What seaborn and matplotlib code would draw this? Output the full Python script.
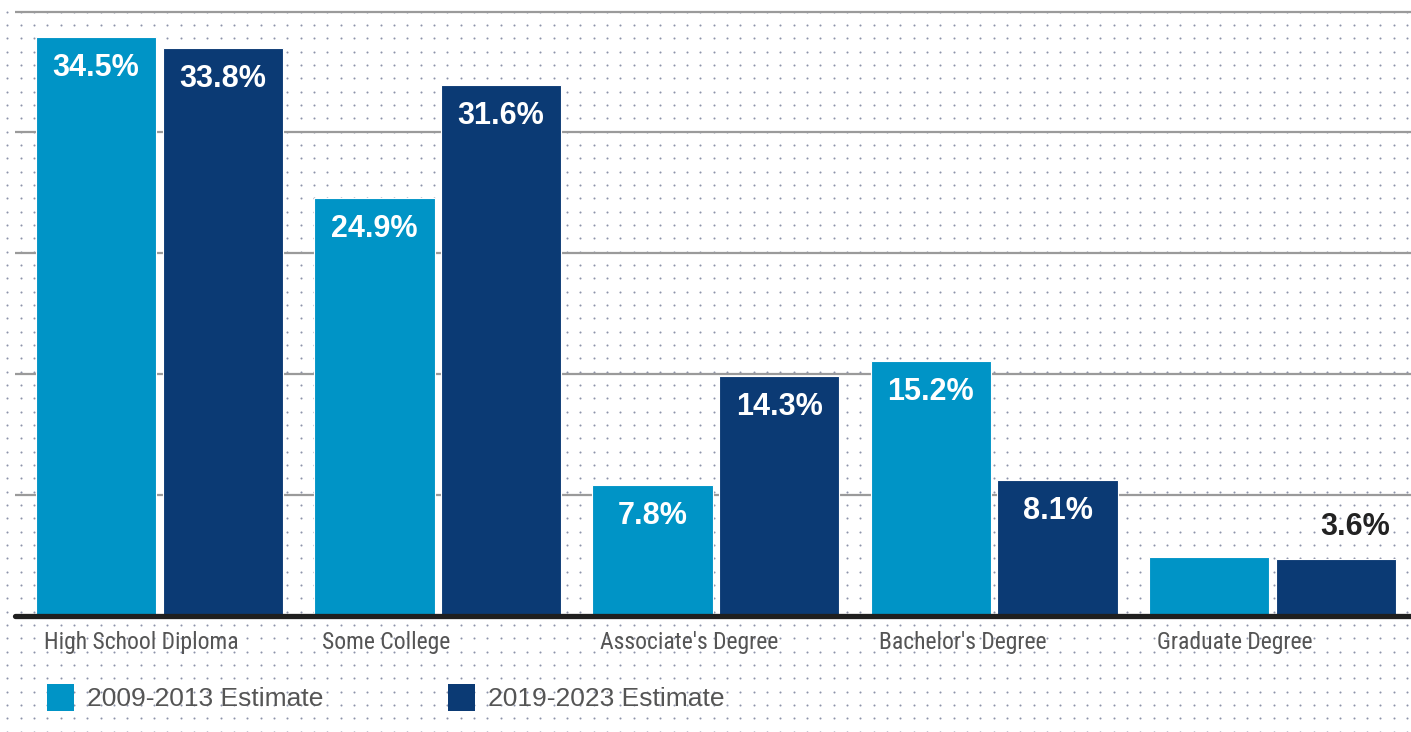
import numpy as np
import pandas as pd
import matplotlib
matplotlib.use("Agg")
import matplotlib.pyplot as plt
from matplotlib.patches import Patch
from matplotlib import font_manager
import seaborn as sns

categories = ["High School Diploma", "Some College", "Associate's Degree",
              "Bachelor's Degree", "Graduate Degree"]
series_names = ["2009-2013 Estimate", "2019-2023 Estimate"]
values_2009 = [34.5, 24.9, 7.8, 15.2, 3.5]
values_2019 = [33.8, 31.6, 14.3, 8.1, 3.4]
labels_2009 = ["34.5%", "24.9%", "7.8%", "15.2%", ""]
labels_2019 = ["33.8%", "31.6%", "14.3%", "8.1%", "3.6%"]
outside_label = [False, False, False, False, True]
colors = ["#0094c6", "#0b3a74"]
y_ticks = [0, 7.2, 14.4, 21.6, 28.8, 36.0]

df = pd.DataFrame({
    "category": categories * 2,
    "series": [series_names[0]] * len(categories) + [series_names[1]] * len(categories),
    "value": values_2009 + values_2019,
})

sns.set_theme(style="white")
plt.rcParams["font.family"] = ["Liberation Sans", "DejaVu Sans"]

installed = {f.name for f in font_manager.fontManager.ttflist}
cond_family = None
for cand in ["Roboto Condensed", "Liberation Sans Narrow", "Open Sans Condensed",
             "Noto Sans Condensed", "DejaVu Sans Condensed"]:
    if cand in installed:
        cond_family = cand
        break
if cond_family is None:
    cond_family = "Roboto" if "Roboto" in installed else "DejaVu Sans"
    cat_size = 15.5
else:
    cat_size = 17

W, H = 1411, 732
fig = plt.figure(figsize=(W / 100, H / 100), dpi=100)
fig.patch.set_facecolor("white")

# dotted background
bg = fig.add_axes([0, 0, 1, 1], zorder=-5)
bg.set_xlim(0, W)
bg.set_ylim(H, 0)
bg.axis("off")
gx, gy = np.meshgrid(np.arange(7.3, W, 13.33), np.arange(11.7, H, 13.33))
bg.scatter(gx.ravel(), gy.ravel(), s=2.2, color="#8d93aa", linewidths=0)

# main axes
left_px, right_px = 15, 1411
y0_px = 616
px_per_unit = 16.79
ylim_top = 36.5
top_px = y0_px - ylim_top * px_per_unit
ax = fig.add_axes([left_px / W, (H - y0_px) / H, (right_px - left_px) / W,
                   (y0_px - top_px) / H], zorder=1)
ax.set_facecolor("none")

sns.barplot(data=df, x="category", y="value", hue="series", order=categories,
            hue_order=series_names, palette=colors, width=0.91, gap=0.05,
            edgecolor="white", linewidth=0.8, saturation=1, ax=ax,
            legend=False, zorder=3)

ax.set_xlim(-0.519, 4.498)
ax.set_ylim(0, ylim_top)
for yv in y_ticks[1:]:
    ax.axhline(yv, color="#9a9a9a", lw=1.6, zorder=1)
ax.axhline(0, color="#1f1f1f", lw=3.8, zorder=5, clip_on=False)
for s in ax.spines.values():
    s.set_visible(False)
ax.set_xticks([])
ax.set_yticks([])
ax.set_xlabel("")
ax.set_ylabel("")

# value labels
for bars, labs in ((ax.containers[0], labels_2009), (ax.containers[1], labels_2019)):
    for i, (b, lab) in enumerate(zip(bars, labs)):
        if not lab:
            continue
        xc = b.get_x() + b.get_width() / 2
        top = b.get_height()
        if outside_label[i]:
            ax.annotate(lab, (xc, top), xytext=(19, 32), textcoords="offset pixels",
                        ha="center", va="center", fontsize=22, fontweight="bold",
                        color="#222222", zorder=6)
        else:
            ax.annotate(lab, (xc, top), xytext=(0, -31), textcoords="offset pixels",
                        ha="center", va="center", fontsize=22, fontweight="bold",
                        color="white", zorder=6)

# category labels (left aligned under each group)
for i, cat in enumerate(categories):
    ax.annotate(cat, (i - 0.455, 0), xytext=(11, -27), textcoords="offset pixels",
                ha="left", va="center", fontsize=cat_size, color="#555555",
                family=[cond_family, "DejaVu Sans"], annotation_clip=False)

handles = [Patch(facecolor=c, edgecolor="none") for c in colors]
fig.legend(handles, series_names, loc="center left",
           bbox_to_anchor=(47 / W, (H - 697.5) / H), ncol=2, frameon=False,
           fontsize=19, handlelength=1.03, handleheight=1.2, handletextpad=0.5,
           columnspacing=4.7, borderpad=0, borderaxespad=0, labelcolor="#555555")

fig.savefig("out.png", dpi=100, facecolor="white")
